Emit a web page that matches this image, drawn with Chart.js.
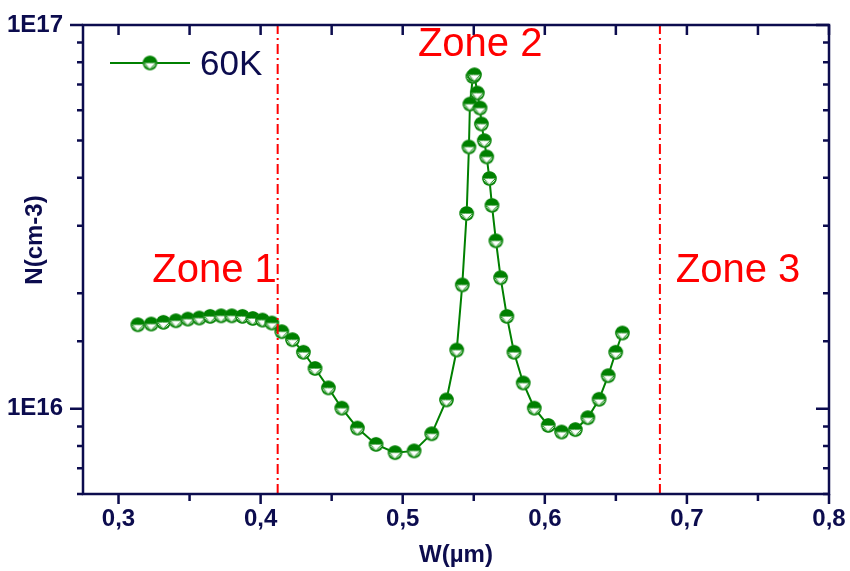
<!DOCTYPE html>
<html>
<head>
<meta charset="utf-8">
<script src="https://cdn.jsdelivr.net/npm/chart.js@4.4.1/dist/chart.umd.min.js"></script>
<style>
  html, body { margin: 0; padding: 0; background: #fff; }
</style>
</head>
<body>
<canvas id="chart" width="850" height="571"></canvas>
<script>
// 60K curve
const widthW = [
  0.3136, 0.3230, 0.3316, 0.3404, 0.3488, 0.3568, 0.3645, 0.3722, 0.3797, 0.3872,
  0.3945, 0.4013, 0.4079, 0.4149, 0.4224, 0.4301, 0.4383, 0.4477, 0.4571, 0.4681,
  0.4812, 0.4946, 0.5080, 0.5204, 0.5308, 0.5380, 0.5419, 0.5450, 0.5466, 0.5473,
  0.5494, 0.5505, 0.5525, 0.5544, 0.5554, 0.5574, 0.5591, 0.5610, 0.5628, 0.5656,
  0.5689, 0.5733, 0.5783, 0.5848, 0.5926, 0.6024, 0.6118, 0.6215, 0.6303, 0.6382,
  0.6446, 0.6499, 0.6546
];
const densityN = [
  1.656e16, 1.663e16, 1.680e16, 1.696e16, 1.713e16, 1.724e16, 1.741e16, 1.747e16, 1.747e16, 1.741e16,
  1.720e16, 1.703e16, 1.673e16, 1.588e16, 1.514e16, 1.404e16, 1.274e16, 1.134e16, 1.004e16, 8.91e15,
  8.08e15, 7.69e15, 7.77e15, 8.61e15, 1.055e16, 1.423e16, 2.103e16, 3.229e16, 4.812e16, 6.223e16,
  7.340e16, 7.415e16, 6.648e16, 6.076e16, 5.523e16, 4.997e16, 4.533e16, 3.981e16, 3.388e16, 2.740e16,
  2.196e16, 1.741e16, 1.404e16, 1.168e16, 1.004e16, 9.05e15, 8.70e15, 8.83e15, 9.48e15, 1.059e16,
  1.220e16, 1.404e16, 1.576e16
];
const seriesName = '60K';

// x ticks: labelled every 0.1, minor every 0.05
const xTickValues = [0.3, 0.35, 0.4, 0.45, 0.5, 0.55, 0.6, 0.65, 0.7, 0.75, 0.8];

// zone borders and their labels
const zoneBounds = [0.412, 0.681];
const zoneNames = ['Zone 1', 'Zone 2', 'Zone 3'];
const zoneTextX = [0.3237, 0.5107, 0.6922];
const zoneTextY = [2.28e16, 8.87e16, 2.28e16];

const X_MIN = 0.275, X_MAX = 0.8;
const Y_MIN = 6e15, Y_MAX = 1e17;

const NAVY = '#0c0c4e';
const GREEN = '#008000';
const FONT = '"Liberation Sans", Arial, sans-serif';

function makeMarker() {
  const c = document.createElement('canvas');
  c.width = 17; c.height = 17;
  const g = c.getContext('2d');
  const cx = 8.5, cy = 8.5, r = 7;
  g.fillStyle = '#fff';
  g.beginPath(); g.arc(cx, cy, r, 0, Math.PI * 2); g.fill();
  // hatched lower half with a white triangle in the middle
  g.save();
  g.beginPath(); g.arc(cx, cy, r, 0, Math.PI); g.closePath(); g.clip();
  g.strokeStyle = GREEN; g.lineWidth = 0.9;
  for (let i = -17; i < 20; i += 2.5) {
    g.beginPath(); g.moveTo(i, cy); g.lineTo(i + 9, 17); g.stroke();
    g.beginPath(); g.moveTo(i + 9, cy); g.lineTo(i, 17); g.stroke();
  }
  g.fillStyle = '#fff';
  g.beginPath(); g.moveTo(cx - 4.5, cy + 0.5); g.lineTo(cx + 4.5, cy + 0.5); g.lineTo(cx, cy + 5.5); g.closePath(); g.fill();
  g.restore();
  g.fillStyle = GREEN;
  g.beginPath(); g.arc(cx, cy, r, Math.PI, Math.PI * 2); g.closePath(); g.fill();
  g.strokeStyle = GREEN; g.lineWidth = 1.3;
  g.beginPath(); g.arc(cx, cy, r - 0.4, 0, Math.PI * 2); g.stroke();
  return c;
}
const marker = makeMarker();

function isDecade(v) {
  const e = Math.log10(v);
  return Math.abs(e - Math.round(e)) < 1e-9;
}

// frame, mirrored ticks, titles, legend and zone labels
const framePlugin = {
  id: 'frame',
  afterDraw(chart) {
    const ctx = chart.ctx;
    const a = chart.chartArea;
    const xs = chart.scales.x, ys = chart.scales.y;
    ctx.save();
    ctx.strokeStyle = NAVY;
    ctx.lineWidth = 2.5;
    ctx.lineCap = 'butt';
    ctx.strokeRect(a.left, a.top, a.right - a.left, a.bottom - a.top);

    xs.ticks.forEach(t => {
      const k = Math.round(t.value * 1000);
      const major = k % 100 === 0;
      const px = xs.getPixelForValue(t.value);
      ctx.beginPath();
      ctx.moveTo(px, a.bottom); ctx.lineTo(px, a.bottom + (major ? 10 : 7));
      ctx.moveTo(px, a.top); ctx.lineTo(px, a.top + 10);
      ctx.stroke();
    });
    ys.ticks.forEach(t => {
      const major = isDecade(t.value);
      const py = ys.getPixelForValue(t.value);
      const len = major ? 13 : 6;
      ctx.beginPath();
      ctx.moveTo(a.left, py); ctx.lineTo(a.left - len, py);
      ctx.moveTo(a.right, py); ctx.lineTo(a.right - len, py);
      ctx.stroke();
    });

    // axis titles
    ctx.fillStyle = NAVY;
    ctx.font = 'bold 24px ' + FONT;
    ctx.textAlign = 'center';
    ctx.textBaseline = 'alphabetic';
    ctx.fillText('W(µm)', (a.left + a.right) / 2, 562);
    ctx.save();
    ctx.translate(42, 240);
    ctx.rotate(-Math.PI / 2);
    ctx.fillText('N(cm-3)', 0, 0);
    ctx.restore();

    // legend
    ctx.strokeStyle = GREEN;
    ctx.lineWidth = 2;
    ctx.beginPath(); ctx.moveTo(110, 63); ctx.lineTo(190, 63); ctx.stroke();
    ctx.drawImage(marker, 150 - 8.5, 63 - 8.5);
    ctx.fillStyle = NAVY;
    ctx.font = '35px ' + FONT;
    ctx.textAlign = 'left';
    ctx.fillText(seriesName, 200, 75);

    // zone labels
    ctx.fillStyle = '#ff0000';
    ctx.font = '40px ' + FONT;
    ctx.textBaseline = 'middle';
    zoneNames.forEach((name, i) => {
      ctx.fillText(name, xs.getPixelForValue(zoneTextX[i]), ys.getPixelForValue(zoneTextY[i]));
    });
    ctx.restore();
  }
};

const zoneSets = zoneBounds.map(b => ({
  data: [{ x: b, y: Y_MIN }, { x: b, y: Y_MAX }],
  borderColor: '#ff0000',
  borderWidth: 2,
  borderDash: [10, 4, 2, 4],
  pointRadius: 0,
  fill: false,
  order: 0
}));

new Chart(document.getElementById('chart'), {
  type: 'line',
  data: {
    datasets: [
      ...zoneSets,
      {
        label: seriesName,
        data: widthW.map((w, i) => ({ x: w, y: densityN[i] })),
        borderColor: GREEN,
        borderWidth: 2,
        tension: 0,
        fill: false,
        pointStyle: marker,
        pointRadius: 7,
        order: 1
      }
    ]
  },
  plugins: [framePlugin],
  options: {
    responsive: false,
    animation: false,
    events: [],
    layout: { padding: { left: 0, right: 21, top: 25, bottom: 0 } },
    plugins: { legend: { display: false }, tooltip: { enabled: false } },
    scales: {
      x: {
        type: 'linear',
        min: X_MIN,
        max: X_MAX,
        grid: { display: false, drawTicks: false },
        border: { display: false },
        afterBuildTicks: s => { s.ticks = xTickValues.map(v => ({ value: v })); },
        afterFit: s => { s.height = 77; s.paddingLeft = 0; s.paddingRight = 0; },
        ticks: {
          autoSkip: false,
          maxRotation: 0,
          padding: 11,
          color: NAVY,
          font: { family: FONT, size: 24, weight: 'bold' },
          callback: v => {
            const k = Math.round(v * 1000);
            return k % 100 === 0 ? (k / 1000).toFixed(1).replace('.', ',') : '';
          }
        }
      },
      y: {
        type: 'logarithmic',
        min: Y_MIN,
        max: Y_MAX,
        grid: { display: false, drawTicks: false },
        border: { display: false },
        afterFit: s => { s.width = 83; s.paddingTop = 0; s.paddingBottom = 0; },
        ticks: {
          autoSkip: false,
          padding: 20,
          color: NAVY,
          font: { family: FONT, size: 24, weight: 'bold' },
          callback: v => isDecade(v) ? '1E' + Math.round(Math.log10(v)) : ''
        }
      }
    }
  }
});
</script>
</body>
</html>
